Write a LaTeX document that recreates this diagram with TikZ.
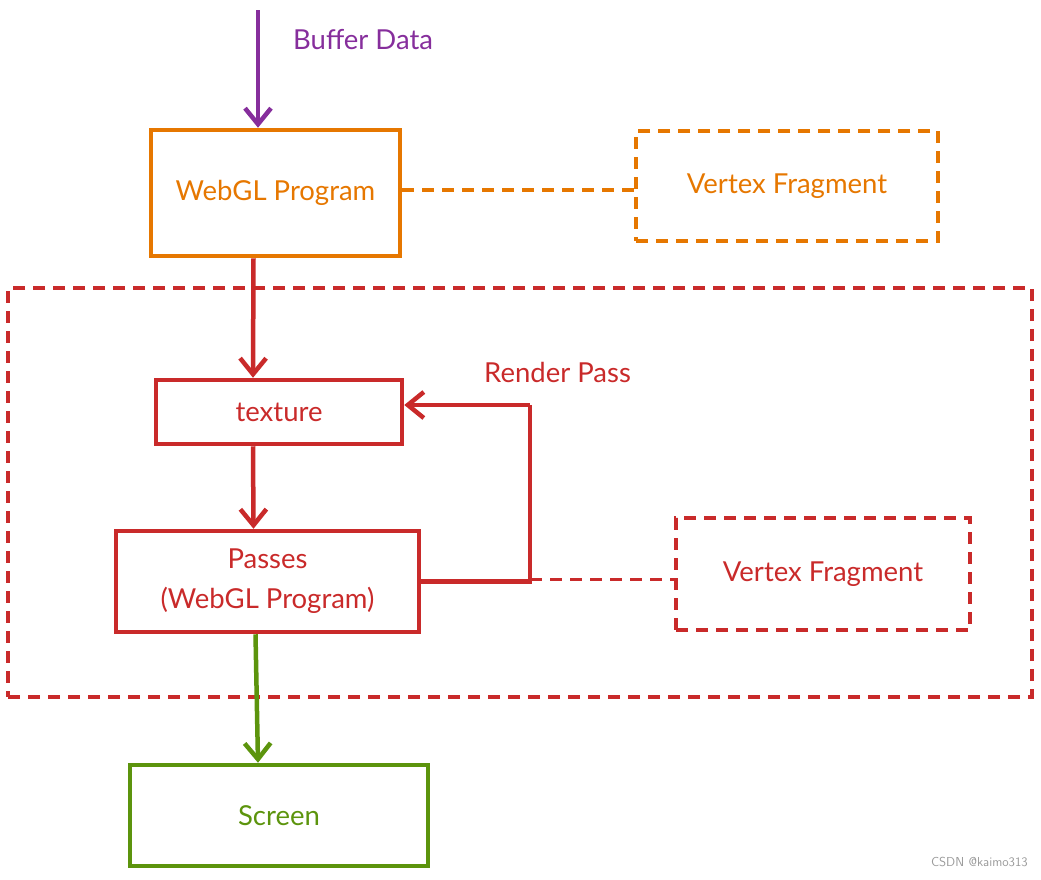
\documentclass[tikz,border=0pt]{standalone}
\usepackage{fontspec}
\setmainfont{Lato}
\usetikzlibrary{arrows.meta}
\definecolor{cviolet}{HTML}{862E9C}
\definecolor{corange}{HTML}{E67700}
\definecolor{cred}{HTML}{C92A2A}
\definecolor{cgreen}{HTML}{5C940D}
\definecolor{cgray}{HTML}{9A9A9A}
\tikzset{
  box/.style={draw, line width=4.5pt, rectangle, inner sep=0pt, align=center,
    font=\fontsize{27.5}{40}\selectfont},
  dbox/.style={box, line width=3.5pt, dash pattern=on 12pt off 8pt},
  dline/.style={line width=3.5pt, dash pattern=on 12pt off 8pt},
  arr/.style={line width=4.5pt, -{Straight Barb[length=16pt,width=26pt,line width=4.5pt]}},
  lbl/.style={font=\fontsize{27.5}{30}\selectfont, inner sep=0pt},
}
\begin{document}
\begin{tikzpicture}[x=1pt,y=-1pt]
\useasboundingbox (0,0) rectangle (1041,879);
% frame
\node[dbox, cred, minimum width=1024pt, minimum height=409pt] (frame) at (520,492.5) {};
% top part
\node[box, corange, minimum width=249pt, minimum height=126pt] (prog) at (275.5,193) {WebGL Program};
\node[dbox, corange, minimum width=302pt, minimum height=110pt] (vf1) at (787,186) {Vertex Fragment};
\coordinate (bufstart) at (258,10);
\draw[arr, cviolet] (bufstart) -- (prog.north -| bufstart);
\node[lbl, cviolet, anchor=west] (buf) at (293,40) {Buffer Data};
\coordinate (d1) at (vf1.west |- prog.east);
\draw[dline, corange] ([yshift=3pt]prog.east) -- ([yshift=3pt]d1);
% inner
\node[box, cred, minimum width=246pt, minimum height=64pt] (tex) at (279,412) {texture};
\node[box, cred, minimum width=303pt, minimum height=101pt] (passes) at (267.5,581.5) {Passes\\(WebGL Program)};
\node[dbox, cred, minimum width=294pt, minimum height=112pt] (vf2) at (823,574) {Vertex Fragment};
\draw[arr, cred] ([xshift=-22pt]prog.south) -- ([xshift=-26pt]tex.north);
\draw[arr, cred] ([xshift=-26pt]tex.south) -- ([xshift=-14pt]passes.north);
\coordinate (rp1) at (530,581.5);
\coordinate (rp2) at (530,405);
\draw[line width=4.5pt, cred] (passes.east) -- (rp1) -- (rp2);
\draw[arr, cred] (rp2) -- (tex.east |- rp2);
\node[lbl, cred, anchor=west] (rplbl) at (484,372) {Render Pass};
\draw[dline, cred] ([yshift=2pt]rp1) -- ([yshift=2pt]vf2.west |- rp1);
% screen
\node[box, cgreen, minimum width=298pt, minimum height=101pt] (screen) at (279,815.5) {Screen};
\draw[arr, cgreen] ([xshift=-12pt]passes.south) -- ([xshift=-21pt]screen.north);
% watermark
\node[cgray, font=\fontsize{13}{15}\selectfont\sffamily, anchor=east, inner sep=0pt] (wm) at (1028,862) {CSDN @kaimo313};
\end{tikzpicture}
\end{document}
